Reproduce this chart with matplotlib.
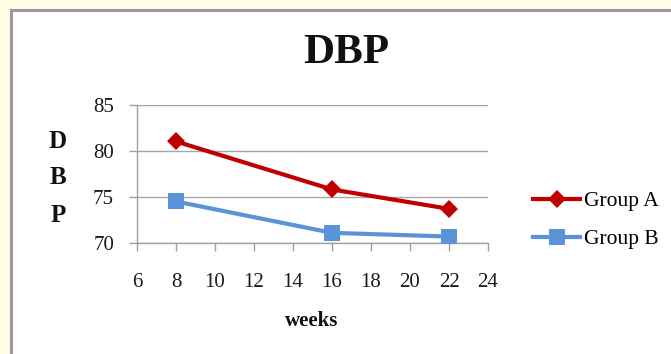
import matplotlib
matplotlib.use("Agg")
import matplotlib.pyplot as plt
from matplotlib.patches import Rectangle

# Data
weeks = [8, 16, 22]
group_a = [81.0, 75.8, 73.7]
group_b = [74.5, 71.1, 70.7]
series_names = ["Group A", "Group B"]
x_ticks = [6, 8, 10, 12, 14, 16, 18, 20, 22, 24]
y_ticks = [70, 75, 80, 85]

W, H, DPI = 671, 354, 100
plt.rcParams["font.family"] = ["Liberation Serif", "DejaVu Serif"]

fig = plt.figure(figsize=(W / DPI, H / DPI), dpi=DPI, facecolor="#FFFDE8")

# White chart panel with grey frame, running off the right and bottom edges
top = 1 - 9.5 / H
panel = Rectangle((11 / W, -0.05), 1.0, top + 0.05,
                  transform=fig.transFigure, facecolor="white",
                  edgecolor="#9A9A9A", linewidth=2.2, zorder=-5)
fig.patches.append(panel)

def px(x0, y0, x1, y1):
    return [x0 / W, 1 - y1 / H, (x1 - x0) / W, (y1 - y0) / H]

ax = fig.add_axes(px(137, 104.5, 488, 243))
ax.set_facecolor("none")
ax.set_zorder(1)

red = "#C00000"
blue = "#5B93D8"
ax.plot(weeks, group_a, color=red, lw=3.0, marker="D", ms=9.5,
        markeredgewidth=0, label=series_names[0], zorder=3)
ax.plot(weeks, group_b, color=blue, lw=3.0, marker="s", ms=12,
        markeredgewidth=0, label=series_names[1], zorder=3)

ax.set_xlim(6, 24)
ax.set_ylim(70, 85)
ax.set_xticks(x_ticks)
ax.set_yticks(y_ticks)
ax.grid(axis="y", color="#A6A6A6", lw=1.0)
ax.set_axisbelow(True)
for s in ["top", "right"]:
    ax.spines[s].set_visible(False)
for s in ["left", "bottom"]:
    ax.spines[s].set_color("#A0A0A0")
    ax.spines[s].set_linewidth(1.0)
ax.tick_params(axis="x", direction="out", length=5.5, width=1.0,
               color="#A0A0A0", labelsize=15, pad=16, labelcolor="#1a1a1a")
ax.tick_params(axis="y", direction="out", length=5.5, width=1.0,
               color="#A0A0A0", labelsize=15, pad=11, labelcolor="#1a1a1a")

# Titles and axis labels
fig.text(346 / W, 1 - 53 / H, "DBP", ha="center", va="center",
         fontsize=31, fontweight="bold", color="#111111")
for letter, yy in zip("DBP", [142, 178, 215]):
    fig.text(58 / W, 1 - yy / H, letter, ha="center", va="center",
             fontsize=18, fontweight="bold", color="#111111")
fig.text(312 / W, 1 - 321 / H, "weeks", ha="center", va="center",
         fontsize=15, fontweight="bold", color="#111111")

fig.legend(loc="upper left", bbox_to_anchor=(533 / W, 1 - 191 / H),
           frameon=False, fontsize=15.5, handlelength=2.2, handletextpad=0.15,
           labelspacing=0.85, borderpad=0, borderaxespad=0)

fig.savefig("out.png", dpi=DPI, facecolor=fig.get_facecolor())
